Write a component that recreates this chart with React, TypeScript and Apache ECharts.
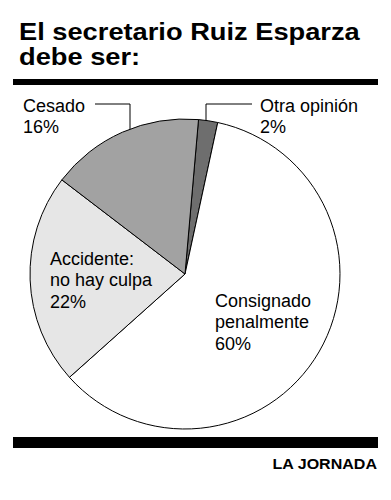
import React, { useEffect, useRef } from "react";
import * as echarts from "echarts";

const titleLines = ["El secretario Ruiz Esparza", "debe ser:"];
const categories = ["Otra opinión", "Consignado\npenalmente", "Accidente:\nno hay culpa", "Cesado"];
const values = [2, 60, 22, 16];
const sliceColors = ["#6e6e6e", "#ffffff", "#e6e6e6", "#a2a2a2"];
const insideLabel = [false, true, true, false];
const sourceText = "LA JORNADA";

const FONT = "'Liberation Sans', Arial, Helvetica, sans-serif";

export default function App() {
  const ref = useRef<HTMLDivElement>(null);
  useEffect(() => {
    if (!ref.current) return;
    const chart = echarts.init(ref.current, undefined, { renderer: "svg" });
    const labelPos: Record<number, { x: number; y: number; line?: number[][] }> = {
      0: { x: 260, y: 95, line: [[252, 104], [206, 104], [206, 150]] },
      1: { x: 215, y: 290 },
      2: { x: 50, y: 248 },
      3: { x: 23, y: 95, line: [[95, 104], [130, 104], [130, 152]] },
    };
    const titleY = [32, 57];
    chart.setOption({
      animation: false,
      backgroundColor: "#ffffff",
      graphic: [
        ...titleLines.map((t, i) => ({
          type: "text",
          x: 19,
          y: titleY[i],
          scaleX: 1.16,
          style: {
            text: t,
            fontFamily: FONT,
            fontWeight: "bold",
            fontSize: 23.5,
            fill: "#000",
            align: "left",
            verticalAlign: "middle",
          },
        })),
        { type: "rect", shape: { x: 13, y: 79, width: 365, height: 6 }, style: { fill: "#000" } },
        { type: "rect", shape: { x: 13, y: 437, width: 365, height: 11 }, style: { fill: "#000" } },
        {
          type: "text",
          x: 377,
          y: 464,
          scaleX: 1.07,
          style: {
            text: sourceText,
            fontFamily: FONT,
            fontWeight: "bold",
            fontSize: 15,
            fill: "#000",
            align: "right",
            verticalAlign: "middle",
          },
        },
      ],
      series: [
        {
          type: "pie",
          center: [185, 274],
          radius: 155,
          startAngle: 85,
          clockwise: true,
          avoidLabelOverlap: false,
          itemStyle: { borderColor: "#000", borderWidth: 1 },
          emphasis: { disabled: true },
          label: {
            show: true,
            formatter: "{b}\n{c}%",
            fontFamily: FONT,
            fontSize: 18,
            lineHeight: 21.5,
            color: "#000",
          },
          labelLine: { show: true, lineStyle: { color: "#000", width: 1 } },
          labelLayout: (params: any) => {
            const p = labelPos[params.dataIndex];
            const out: any = { x: p.x, y: p.y, align: "left", verticalAlign: "top" };
            if (p.line) out.labelLinePoints = p.line;
            return out;
          },
          data: categories.map((name, i) => ({
            name,
            value: values[i],
            itemStyle: { color: sliceColors[i] },
            labelLine: { show: !insideLabel[i] },
          })),
        },
      ],
    });
    return () => chart.dispose();
  }, []);
  return (
    <div
      ref={ref}
      style={{ position: "fixed", left: 0, top: 0, width: 391, height: 500 }}
    />
  );
}
